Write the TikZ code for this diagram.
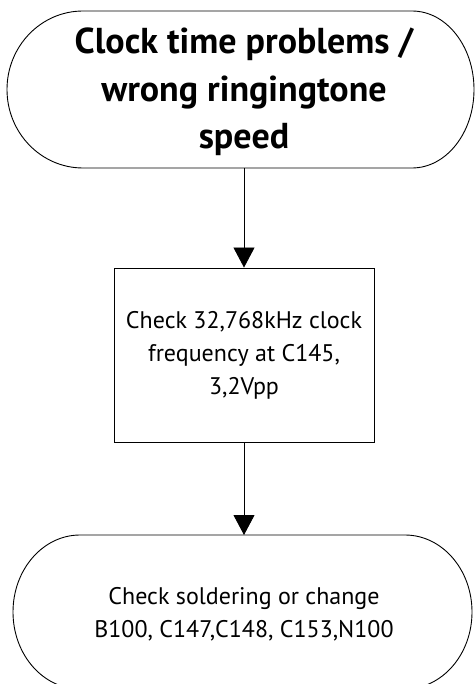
\documentclass[tikz,border=0pt]{standalone}
\usepackage{fontspec}
\setmainfont{PT Sans}
\usetikzlibrary{arrows.meta}
\tikzset{
  outline/.style={draw=black, line width=0.9pt},
  flow/.style={draw=black, line width=0.9pt, -{Triangle[length=20pt,width=21pt]}},
  titletext/.style={align=center, font=\fontsize{36}{47.5}\selectfont\bfseries},
  bodytext/.style={align=center, font=\fontsize{24}{33}\selectfont},
}
\begin{document}
\begin{tikzpicture}[x=1pt,y=-1pt]
  \useasboundingbox (0,0) rectangle (475,684);
  \clip (0,0) rectangle (475,684);

  % start terminator (y axis points down, so angles run clockwise on the page)
  \draw[outline] (83,11) -- (412,11)
    arc[start angle=-90, end angle=90, x radius=62, y radius=78.5]
    -- (83,168)
    arc[start angle=90, end angle=270, x radius=76, y radius=78.5] -- cycle;
  \node[titletext] (start) at (244,92) {Clock time problems /\\wrong ringingtone\\speed};
  \coordinate (startbottom) at (244,168);

  % check step
  \node[outline, bodytext, minimum width=260pt, minimum height=174pt, inner sep=0pt] (check) at (244,355)
    {Check 32,768kHz clock\\frequency at C145,\\3,2Vpp};

  % end terminator
  \draw[outline] (80,535) -- (405,535)
    arc[start angle=-90, end angle=90, x radius=67, y radius=77]
    -- (80,689)
    arc[start angle=90, end angle=270, x radius=67, y radius=77] -- cycle;
  \node[bodytext] (finish) at (244,614) {Check soldering or change\\B100, C147,C148, C153,N100};
  \coordinate (finishtop) at (244,535);

  \draw[flow] (startbottom) -- (check.north);
  \draw[flow] (check.south) -- (finishtop);
\end{tikzpicture}
\end{document}
